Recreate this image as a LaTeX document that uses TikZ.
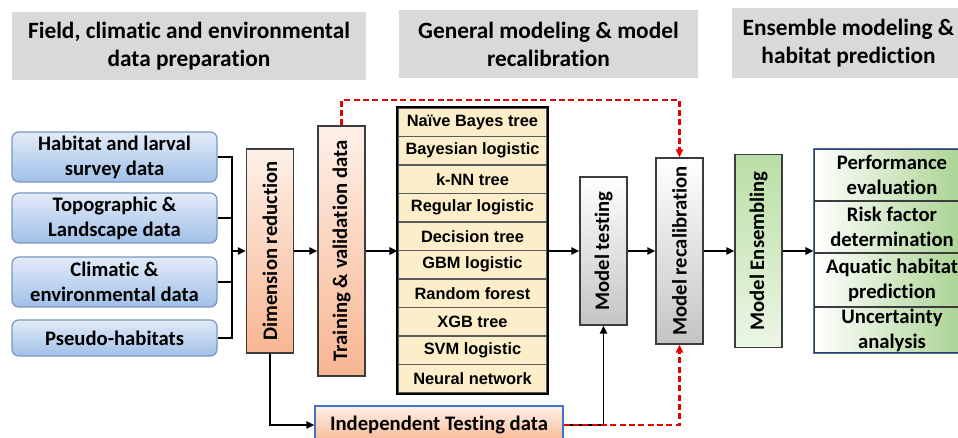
\documentclass[tikz,border=0pt]{standalone}
\usepackage{fontspec}
\setmainfont{Carlito}[Ligatures=CommonOff]
\newfontfamily\arialfont{Liberation Sans}
\usetikzlibrary{arrows.meta}

\definecolor{hdrgray}{RGB}{217,217,217}
\definecolor{inlight}{RGB}{226,235,247}
\definecolor{indark}{RGB}{160,192,232}
\definecolor{inborder}{RGB}{120,150,190}
\definecolor{orlight}{RGB}{254,240,232}
\definecolor{ordark}{RGB}{248,182,146}
\definecolor{grdark}{RGB}{196,196,196}
\definecolor{gnleft}{RGB}{186,222,166}
\definecolor{gnright}{RGB}{236,246,230}
\definecolor{gnout}{RGB}{165,208,140}
\definecolor{mfill}{RGB}{253,238,202}
\definecolor{boxline}{RGB}{60,60,60}
\definecolor{rowline}{RGB}{90,90,90}
\definecolor{bluerim}{RGB}{68,114,196}
\definecolor{loopred}{RGB}{230,0,0}

\tikzset{every picture/.style={line width=0.75pt}}
\tikzset{
  hdr/.style={fill=hdrgray, inner sep=0pt, align=center, font=\fontsize{17.5}{21}\selectfont\bfseries},
  inbox/.style={draw=inborder, line width=0.9pt, rounded corners=5pt, top color=inlight, bottom color=indark,
    minimum width=153.75pt, inner sep=0pt, align=center, font=\fontsize{15.5}{18.75}\selectfont\bfseries},
  stage/.style={draw=boxline, line width=1.1pt, rotate=90, minimum height=35.25pt, inner sep=0pt,
    font=\fontsize{15.5}{18.75}\selectfont\bfseries},
  orangeshade/.style={top color=orlight, bottom color=ordark},
  grayshade/.style={top color=white, bottom color=grdark},
  greenshade/.style={top color=gnleft, bottom color=gnright},
  mrow/.style={draw=rowline, line width=0.9pt, fill=mfill, minimum width=111.75pt, minimum height=21.375pt,
    inner sep=0pt, font=\arialfont\bfseries\fontsize{12.3}{14}\selectfont},
  outcell/.style={draw=boxline, line width=0.9pt, left color=white, right color=gnout, minimum width=117pt,
    inner sep=0pt, align=center, font=\fontsize{15.5}{18.75}\selectfont\bfseries},
  indbox/.style={draw=bluerim, line width=1pt, top color=orlight, bottom color=ordark, minimum width=186pt,
    minimum height=28.5pt, inner sep=0pt, font=\fontsize{15.5}{18.75}\selectfont\bfseries},
  link/.style={line width=1.4pt},
  arr/.style={line width=1.4pt, -{Triangle[length=6pt,width=5.5pt]}},
  redarr/.style={line width=1.6pt, loopred, dash pattern=on 4.5pt off 2.5pt, -{Triangle[length=6pt,width=5.5pt]}}
}

\begin{document}
\begin{tikzpicture}[x=0.75pt,y=0.75pt,yscale=-1,xscale=1]
	\clip (0,0) rectangle (958,438);

	% Stage headers
	\node[hdr, minimum width=265.5pt, minimum height=51pt] (h1) at (189,46) {Field, climatic and environmental\\data preparation};
	\node[hdr, minimum width=224.25pt, minimum height=51pt] (h2) at (548.5,44) {General modeling \& model\\recalibration};
	\node[hdr, minimum width=174.75pt, minimum height=52.5pt] (h3) at (848.5,43) {Ensemble modeling \&\\habitat prediction};

	% Input data
	\node[inbox, minimum height=37.5pt] (in1) at (114.5,157) {Habitat and larval\\survey data};
	\node[inbox, minimum height=37.5pt] (in2) at (114.5,218) {Topographic \&\\Landscape data};
	\node[inbox, minimum height=37.5pt] (in3) at (114.5,282) {Climatic \&\\environmental data};
	\node[inbox, minimum height=27pt] (in4) at (114.5,338) {Pseudo-habitats};

	% Vertical stages
	\node[stage, orangeshade, minimum width=153pt] (dimred) at (270,251) {Dimension reduction};
	\node[stage, orangeshade, minimum width=187.5pt] (train) at (341.5,251) {Training \& validation data};
	\node[stage, grayshade, minimum width=111pt] (test) at (603.5,251) {Model testing};
	\node[stage, grayshade, minimum width=139.5pt] (recal) at (679.5,251) {Model recalibration};
	\node[stage, greenshade, minimum width=144.75pt] (ens) at (758.5,251) {Model Ensembling};

	% Model list
	\foreach \mname [count=\i] in {Naïve Bayes tree, Bayesian logistic, k-NN tree, Regular logistic, Decision tree,
	    GBM logistic, Random forest, XGB tree, SVM logistic, Neural network}
	  \node[mrow] (m\i) at (472.5,{122.25+28.5*(\i-1)}) {\mname};
	\draw[line width=1.5pt] (m1.north west) rectangle (m10.south east);

	% Outputs
	\node[outcell, minimum height=39pt] (o1) at (892,175) {Performance\\evaluation};
	\node[outcell, minimum height=39pt] (o2) at (892,227) {Risk factor\\determination};
	\node[outcell, minimum height=40.5pt] (o3) at (892,280) {Aquatic habitat\\prediction};
	\node[outcell, minimum height=34.5pt] (o4) at (892,330) {Uncertainty\\analysis};
	\draw[bluerim, line width=1pt] (o1.north west) rectangle (o4.south east);

	% Independent test set
	\node[indbox] (indep) at (439,425) {Independent Testing data};

	% Connectors
	\coordinate (join) at (232,251);
	\draw[link] (in1.east) -| (join) |- (in4.east);
	\draw[link] (in2.east) -- (in2.east -| join);
	\draw[link] (in3.east) -- (in3.east -| join);
	\draw[arr] (join) -- (dimred);
	\draw[arr] (dimred) -- (train);
	\draw[arr] (train) -- (train -| m5.south west);
	\draw[arr] (m5.south east |- test) -- (test);
	\draw[arr] (test) -- (recal);
	\draw[arr] (recal) -- (ens);
	\draw[arr] (ens) -- (ens -| o2.west);
	\draw[arr] (dimred.west) |- (indep.west);
	\draw[arr] (indep.east) -| (test.west);

	% Recalibration loop
	\coordinate (loop) at (0,100);
	\draw[redarr] (indep.east) -| (recal.west);
	\draw[redarr] (train.east) |- (recal.east |- loop) -- (recal.east);

\end{tikzpicture}
\end{document}
